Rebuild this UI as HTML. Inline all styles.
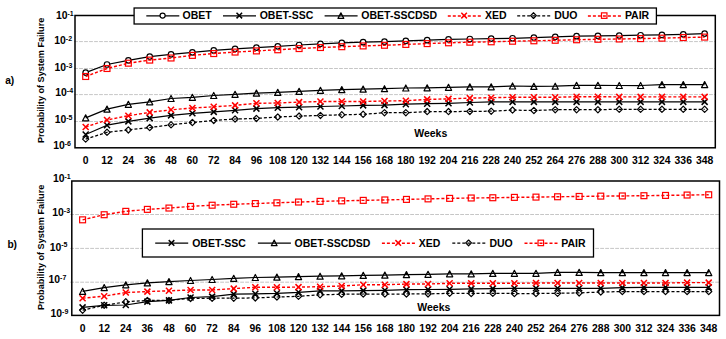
<!DOCTYPE html>
<html><head><meta charset="utf-8"><style>
html,body{margin:0;padding:0;background:#fff;}
svg{display:block;}
text{font-family:"Liberation Sans",sans-serif;font-weight:bold;fill:#000;}
.lg{font-size:10.5px;}
.tk{font-size:10.4px;}
.yl{font-size:10.4px;}
.sup{font-size:7px;}
.ttl{font-size:9.1px;}
.wk{font-size:10.5px;}
.pl{font-size:10.2px;}
</style></head><body>
<svg width="726" height="339" viewBox="0 0 726 339">
<rect width="726" height="339" fill="#fff"/>
<g>
<line x1="74.1" y1="41.60" x2="715.3" y2="41.60" stroke="#c6c6c6" stroke-width="1" stroke-dasharray="3.8 1.2"/>
<line x1="74.1" y1="68.50" x2="715.3" y2="68.50" stroke="#c6c6c6" stroke-width="1" stroke-dasharray="3.8 1.2"/>
<line x1="74.1" y1="94.60" x2="715.3" y2="94.60" stroke="#c6c6c6" stroke-width="1" stroke-dasharray="3.8 1.2"/>
<line x1="74.1" y1="121.50" x2="715.3" y2="121.50" stroke="#c6c6c6" stroke-width="1" stroke-dasharray="3.8 1.2"/>
<rect x="75.0" y="15.5" width="640.30" height="132.30" fill="none" stroke="#000" stroke-width="1.5"/>
<polyline points="85.67,72.60 107.01,64.50 128.36,60.30 149.70,56.60 171.04,54.30 192.39,52.30 213.73,50.43 235.07,48.83 256.42,47.57 277.76,46.30 299.10,45.00 320.45,43.80 341.79,42.90 363.13,42.20 384.48,41.67 405.82,40.87 427.16,40.17 448.51,39.37 469.85,39.00 491.19,38.60 512.54,38.27 533.88,37.57 555.22,36.87 576.57,36.17 597.91,35.83 619.25,35.57 640.60,35.23 661.94,34.90 683.28,34.33 704.63,33.60" fill="none" stroke="#000" stroke-width="1.25" stroke-linejoin="round"/>
<circle cx="85.67" cy="72.60" r="2.75" fill="#fff" stroke="#000" stroke-width="1.2"/>
<circle cx="107.01" cy="64.50" r="2.75" fill="#fff" stroke="#000" stroke-width="1.2"/>
<circle cx="128.36" cy="60.30" r="2.75" fill="#fff" stroke="#000" stroke-width="1.2"/>
<circle cx="149.70" cy="56.60" r="2.75" fill="#fff" stroke="#000" stroke-width="1.2"/>
<circle cx="171.04" cy="54.30" r="2.75" fill="#fff" stroke="#000" stroke-width="1.2"/>
<circle cx="192.39" cy="52.30" r="2.75" fill="#fff" stroke="#000" stroke-width="1.2"/>
<circle cx="213.73" cy="50.43" r="2.75" fill="#fff" stroke="#000" stroke-width="1.2"/>
<circle cx="235.07" cy="48.83" r="2.75" fill="#fff" stroke="#000" stroke-width="1.2"/>
<circle cx="256.42" cy="47.57" r="2.75" fill="#fff" stroke="#000" stroke-width="1.2"/>
<circle cx="277.76" cy="46.30" r="2.75" fill="#fff" stroke="#000" stroke-width="1.2"/>
<circle cx="299.10" cy="45.00" r="2.75" fill="#fff" stroke="#000" stroke-width="1.2"/>
<circle cx="320.45" cy="43.80" r="2.75" fill="#fff" stroke="#000" stroke-width="1.2"/>
<circle cx="341.79" cy="42.90" r="2.75" fill="#fff" stroke="#000" stroke-width="1.2"/>
<circle cx="363.13" cy="42.20" r="2.75" fill="#fff" stroke="#000" stroke-width="1.2"/>
<circle cx="384.48" cy="41.67" r="2.75" fill="#fff" stroke="#000" stroke-width="1.2"/>
<circle cx="405.82" cy="40.87" r="2.75" fill="#fff" stroke="#000" stroke-width="1.2"/>
<circle cx="427.16" cy="40.17" r="2.75" fill="#fff" stroke="#000" stroke-width="1.2"/>
<circle cx="448.51" cy="39.37" r="2.75" fill="#fff" stroke="#000" stroke-width="1.2"/>
<circle cx="469.85" cy="39.00" r="2.75" fill="#fff" stroke="#000" stroke-width="1.2"/>
<circle cx="491.19" cy="38.60" r="2.75" fill="#fff" stroke="#000" stroke-width="1.2"/>
<circle cx="512.54" cy="38.27" r="2.75" fill="#fff" stroke="#000" stroke-width="1.2"/>
<circle cx="533.88" cy="37.57" r="2.75" fill="#fff" stroke="#000" stroke-width="1.2"/>
<circle cx="555.22" cy="36.87" r="2.75" fill="#fff" stroke="#000" stroke-width="1.2"/>
<circle cx="576.57" cy="36.17" r="2.75" fill="#fff" stroke="#000" stroke-width="1.2"/>
<circle cx="597.91" cy="35.83" r="2.75" fill="#fff" stroke="#000" stroke-width="1.2"/>
<circle cx="619.25" cy="35.57" r="2.75" fill="#fff" stroke="#000" stroke-width="1.2"/>
<circle cx="640.60" cy="35.23" r="2.75" fill="#fff" stroke="#000" stroke-width="1.2"/>
<circle cx="661.94" cy="34.90" r="2.75" fill="#fff" stroke="#000" stroke-width="1.2"/>
<circle cx="683.28" cy="34.33" r="2.75" fill="#fff" stroke="#000" stroke-width="1.2"/>
<circle cx="704.63" cy="33.60" r="2.75" fill="#fff" stroke="#000" stroke-width="1.2"/>
<polyline points="85.67,134.50 107.01,125.20 128.36,121.40 149.70,118.10 171.04,115.40 192.39,113.30 213.73,111.90 235.07,110.30 256.42,108.60 277.76,107.70 299.10,107.20 320.45,106.50 341.79,106.00 363.13,105.40 384.48,105.10 405.82,104.20 427.16,103.70 448.51,103.30 469.85,102.50 491.19,101.90 512.54,101.90 533.88,101.90 555.22,101.90 576.57,101.90 597.91,101.90 619.25,101.90 640.60,101.90 661.94,101.90 683.28,101.90 704.63,101.90" fill="none" stroke="#000" stroke-width="1.25" stroke-linejoin="round"/>
<path d="M82.67 131.50 L88.67 137.50 M88.67 131.50 L82.67 137.50" stroke="#000" stroke-width="1.5" fill="none"/>
<path d="M104.01 122.20 L110.01 128.20 M110.01 122.20 L104.01 128.20" stroke="#000" stroke-width="1.5" fill="none"/>
<path d="M125.36 118.40 L131.36 124.40 M131.36 118.40 L125.36 124.40" stroke="#000" stroke-width="1.5" fill="none"/>
<path d="M146.70 115.10 L152.70 121.10 M152.70 115.10 L146.70 121.10" stroke="#000" stroke-width="1.5" fill="none"/>
<path d="M168.04 112.40 L174.04 118.40 M174.04 112.40 L168.04 118.40" stroke="#000" stroke-width="1.5" fill="none"/>
<path d="M189.39 110.30 L195.39 116.30 M195.39 110.30 L189.39 116.30" stroke="#000" stroke-width="1.5" fill="none"/>
<path d="M210.73 108.90 L216.73 114.90 M216.73 108.90 L210.73 114.90" stroke="#000" stroke-width="1.5" fill="none"/>
<path d="M232.07 107.30 L238.07 113.30 M238.07 107.30 L232.07 113.30" stroke="#000" stroke-width="1.5" fill="none"/>
<path d="M253.42 105.60 L259.42 111.60 M259.42 105.60 L253.42 111.60" stroke="#000" stroke-width="1.5" fill="none"/>
<path d="M274.76 104.70 L280.76 110.70 M280.76 104.70 L274.76 110.70" stroke="#000" stroke-width="1.5" fill="none"/>
<path d="M296.10 104.20 L302.10 110.20 M302.10 104.20 L296.10 110.20" stroke="#000" stroke-width="1.5" fill="none"/>
<path d="M317.45 103.50 L323.45 109.50 M323.45 103.50 L317.45 109.50" stroke="#000" stroke-width="1.5" fill="none"/>
<path d="M338.79 103.00 L344.79 109.00 M344.79 103.00 L338.79 109.00" stroke="#000" stroke-width="1.5" fill="none"/>
<path d="M360.13 102.40 L366.13 108.40 M366.13 102.40 L360.13 108.40" stroke="#000" stroke-width="1.5" fill="none"/>
<path d="M381.48 102.10 L387.48 108.10 M387.48 102.10 L381.48 108.10" stroke="#000" stroke-width="1.5" fill="none"/>
<path d="M402.82 101.20 L408.82 107.20 M408.82 101.20 L402.82 107.20" stroke="#000" stroke-width="1.5" fill="none"/>
<path d="M424.16 100.70 L430.16 106.70 M430.16 100.70 L424.16 106.70" stroke="#000" stroke-width="1.5" fill="none"/>
<path d="M445.51 100.30 L451.51 106.30 M451.51 100.30 L445.51 106.30" stroke="#000" stroke-width="1.5" fill="none"/>
<path d="M466.85 99.50 L472.85 105.50 M472.85 99.50 L466.85 105.50" stroke="#000" stroke-width="1.5" fill="none"/>
<path d="M488.19 98.90 L494.19 104.90 M494.19 98.90 L488.19 104.90" stroke="#000" stroke-width="1.5" fill="none"/>
<path d="M509.54 98.90 L515.54 104.90 M515.54 98.90 L509.54 104.90" stroke="#000" stroke-width="1.5" fill="none"/>
<path d="M530.88 98.90 L536.88 104.90 M536.88 98.90 L530.88 104.90" stroke="#000" stroke-width="1.5" fill="none"/>
<path d="M552.22 98.90 L558.22 104.90 M558.22 98.90 L552.22 104.90" stroke="#000" stroke-width="1.5" fill="none"/>
<path d="M573.57 98.90 L579.57 104.90 M579.57 98.90 L573.57 104.90" stroke="#000" stroke-width="1.5" fill="none"/>
<path d="M594.91 98.90 L600.91 104.90 M600.91 98.90 L594.91 104.90" stroke="#000" stroke-width="1.5" fill="none"/>
<path d="M616.25 98.90 L622.25 104.90 M622.25 98.90 L616.25 104.90" stroke="#000" stroke-width="1.5" fill="none"/>
<path d="M637.60 98.90 L643.60 104.90 M643.60 98.90 L637.60 104.90" stroke="#000" stroke-width="1.5" fill="none"/>
<path d="M658.94 98.90 L664.94 104.90 M664.94 98.90 L658.94 104.90" stroke="#000" stroke-width="1.5" fill="none"/>
<path d="M680.28 98.90 L686.28 104.90 M686.28 98.90 L680.28 104.90" stroke="#000" stroke-width="1.5" fill="none"/>
<path d="M701.63 98.90 L707.63 104.90 M707.63 98.90 L701.63 104.90" stroke="#000" stroke-width="1.5" fill="none"/>
<polyline points="85.67,117.80 107.01,109.10 128.36,104.30 149.70,101.80 171.04,98.50 192.39,97.30 213.73,95.50 235.07,94.30 256.42,93.10 277.76,92.40 299.10,91.40 320.45,90.30 341.79,89.60 363.13,89.10 384.48,88.70 405.82,88.00 427.16,87.80 448.51,87.30 469.85,86.90 491.19,86.80 512.54,86.00 533.88,86.40 555.22,86.20 576.57,85.30 597.91,85.30 619.25,85.50 640.60,85.50 661.94,84.60 683.28,84.60 704.63,84.60" fill="none" stroke="#000" stroke-width="1.25" stroke-linejoin="round"/>
<path d="M85.67 114.80 L88.77 120.80 L82.57 120.80 Z" fill="none" stroke="#000" stroke-width="1.2" stroke-linejoin="round"/>
<path d="M107.01 106.10 L110.11 112.10 L103.91 112.10 Z" fill="none" stroke="#000" stroke-width="1.2" stroke-linejoin="round"/>
<path d="M128.36 101.30 L131.46 107.30 L125.26 107.30 Z" fill="none" stroke="#000" stroke-width="1.2" stroke-linejoin="round"/>
<path d="M149.70 98.80 L152.80 104.80 L146.60 104.80 Z" fill="none" stroke="#000" stroke-width="1.2" stroke-linejoin="round"/>
<path d="M171.04 95.50 L174.14 101.50 L167.94 101.50 Z" fill="none" stroke="#000" stroke-width="1.2" stroke-linejoin="round"/>
<path d="M192.39 94.30 L195.49 100.30 L189.29 100.30 Z" fill="none" stroke="#000" stroke-width="1.2" stroke-linejoin="round"/>
<path d="M213.73 92.50 L216.83 98.50 L210.63 98.50 Z" fill="none" stroke="#000" stroke-width="1.2" stroke-linejoin="round"/>
<path d="M235.07 91.30 L238.17 97.30 L231.97 97.30 Z" fill="none" stroke="#000" stroke-width="1.2" stroke-linejoin="round"/>
<path d="M256.42 90.10 L259.52 96.10 L253.32 96.10 Z" fill="none" stroke="#000" stroke-width="1.2" stroke-linejoin="round"/>
<path d="M277.76 89.40 L280.86 95.40 L274.66 95.40 Z" fill="none" stroke="#000" stroke-width="1.2" stroke-linejoin="round"/>
<path d="M299.10 88.40 L302.20 94.40 L296.00 94.40 Z" fill="none" stroke="#000" stroke-width="1.2" stroke-linejoin="round"/>
<path d="M320.45 87.30 L323.55 93.30 L317.35 93.30 Z" fill="none" stroke="#000" stroke-width="1.2" stroke-linejoin="round"/>
<path d="M341.79 86.60 L344.89 92.60 L338.69 92.60 Z" fill="none" stroke="#000" stroke-width="1.2" stroke-linejoin="round"/>
<path d="M363.13 86.10 L366.23 92.10 L360.03 92.10 Z" fill="none" stroke="#000" stroke-width="1.2" stroke-linejoin="round"/>
<path d="M384.48 85.70 L387.58 91.70 L381.38 91.70 Z" fill="none" stroke="#000" stroke-width="1.2" stroke-linejoin="round"/>
<path d="M405.82 85.00 L408.92 91.00 L402.72 91.00 Z" fill="none" stroke="#000" stroke-width="1.2" stroke-linejoin="round"/>
<path d="M427.16 84.80 L430.26 90.80 L424.06 90.80 Z" fill="none" stroke="#000" stroke-width="1.2" stroke-linejoin="round"/>
<path d="M448.51 84.30 L451.61 90.30 L445.41 90.30 Z" fill="none" stroke="#000" stroke-width="1.2" stroke-linejoin="round"/>
<path d="M469.85 83.90 L472.95 89.90 L466.75 89.90 Z" fill="none" stroke="#000" stroke-width="1.2" stroke-linejoin="round"/>
<path d="M491.19 83.80 L494.29 89.80 L488.09 89.80 Z" fill="none" stroke="#000" stroke-width="1.2" stroke-linejoin="round"/>
<path d="M512.54 83.00 L515.64 89.00 L509.44 89.00 Z" fill="none" stroke="#000" stroke-width="1.2" stroke-linejoin="round"/>
<path d="M533.88 83.40 L536.98 89.40 L530.78 89.40 Z" fill="none" stroke="#000" stroke-width="1.2" stroke-linejoin="round"/>
<path d="M555.22 83.20 L558.32 89.20 L552.12 89.20 Z" fill="none" stroke="#000" stroke-width="1.2" stroke-linejoin="round"/>
<path d="M576.57 82.30 L579.67 88.30 L573.47 88.30 Z" fill="none" stroke="#000" stroke-width="1.2" stroke-linejoin="round"/>
<path d="M597.91 82.30 L601.01 88.30 L594.81 88.30 Z" fill="none" stroke="#000" stroke-width="1.2" stroke-linejoin="round"/>
<path d="M619.25 82.50 L622.35 88.50 L616.15 88.50 Z" fill="none" stroke="#000" stroke-width="1.2" stroke-linejoin="round"/>
<path d="M640.60 82.50 L643.70 88.50 L637.50 88.50 Z" fill="none" stroke="#000" stroke-width="1.2" stroke-linejoin="round"/>
<path d="M661.94 81.60 L665.04 87.60 L658.84 87.60 Z" fill="none" stroke="#000" stroke-width="1.2" stroke-linejoin="round"/>
<path d="M683.28 81.60 L686.38 87.60 L680.18 87.60 Z" fill="none" stroke="#000" stroke-width="1.2" stroke-linejoin="round"/>
<path d="M704.63 81.60 L707.73 87.60 L701.53 87.60 Z" fill="none" stroke="#000" stroke-width="1.2" stroke-linejoin="round"/>
<polyline points="85.67,127.00 107.01,120.00 128.36,115.70 149.70,112.40 171.04,109.80 192.39,108.00 213.73,106.80 235.07,105.40 256.42,103.30 277.76,103.00 299.10,102.10 320.45,101.50 341.79,101.50 363.13,101.50 384.48,101.00 405.82,100.70 427.16,99.40 448.51,98.90 469.85,98.10 491.19,97.70 512.54,97.30 533.88,97.30 555.22,97.30 576.57,96.70 597.91,96.70 619.25,96.90 640.60,96.90 661.94,96.90 683.28,96.90 704.63,96.90" fill="none" stroke="#f00" stroke-width="1.4" stroke-dasharray="3 2" stroke-linejoin="round"/>
<path d="M82.67 124.00 L88.67 130.00 M88.67 124.00 L82.67 130.00" stroke="#f00" stroke-width="1.5" fill="none"/>
<path d="M104.01 117.00 L110.01 123.00 M110.01 117.00 L104.01 123.00" stroke="#f00" stroke-width="1.5" fill="none"/>
<path d="M125.36 112.70 L131.36 118.70 M131.36 112.70 L125.36 118.70" stroke="#f00" stroke-width="1.5" fill="none"/>
<path d="M146.70 109.40 L152.70 115.40 M152.70 109.40 L146.70 115.40" stroke="#f00" stroke-width="1.5" fill="none"/>
<path d="M168.04 106.80 L174.04 112.80 M174.04 106.80 L168.04 112.80" stroke="#f00" stroke-width="1.5" fill="none"/>
<path d="M189.39 105.00 L195.39 111.00 M195.39 105.00 L189.39 111.00" stroke="#f00" stroke-width="1.5" fill="none"/>
<path d="M210.73 103.80 L216.73 109.80 M216.73 103.80 L210.73 109.80" stroke="#f00" stroke-width="1.5" fill="none"/>
<path d="M232.07 102.40 L238.07 108.40 M238.07 102.40 L232.07 108.40" stroke="#f00" stroke-width="1.5" fill="none"/>
<path d="M253.42 100.30 L259.42 106.30 M259.42 100.30 L253.42 106.30" stroke="#f00" stroke-width="1.5" fill="none"/>
<path d="M274.76 100.00 L280.76 106.00 M280.76 100.00 L274.76 106.00" stroke="#f00" stroke-width="1.5" fill="none"/>
<path d="M296.10 99.10 L302.10 105.10 M302.10 99.10 L296.10 105.10" stroke="#f00" stroke-width="1.5" fill="none"/>
<path d="M317.45 98.50 L323.45 104.50 M323.45 98.50 L317.45 104.50" stroke="#f00" stroke-width="1.5" fill="none"/>
<path d="M338.79 98.50 L344.79 104.50 M344.79 98.50 L338.79 104.50" stroke="#f00" stroke-width="1.5" fill="none"/>
<path d="M360.13 98.50 L366.13 104.50 M366.13 98.50 L360.13 104.50" stroke="#f00" stroke-width="1.5" fill="none"/>
<path d="M381.48 98.00 L387.48 104.00 M387.48 98.00 L381.48 104.00" stroke="#f00" stroke-width="1.5" fill="none"/>
<path d="M402.82 97.70 L408.82 103.70 M408.82 97.70 L402.82 103.70" stroke="#f00" stroke-width="1.5" fill="none"/>
<path d="M424.16 96.40 L430.16 102.40 M430.16 96.40 L424.16 102.40" stroke="#f00" stroke-width="1.5" fill="none"/>
<path d="M445.51 95.90 L451.51 101.90 M451.51 95.90 L445.51 101.90" stroke="#f00" stroke-width="1.5" fill="none"/>
<path d="M466.85 95.10 L472.85 101.10 M472.85 95.10 L466.85 101.10" stroke="#f00" stroke-width="1.5" fill="none"/>
<path d="M488.19 94.70 L494.19 100.70 M494.19 94.70 L488.19 100.70" stroke="#f00" stroke-width="1.5" fill="none"/>
<path d="M509.54 94.30 L515.54 100.30 M515.54 94.30 L509.54 100.30" stroke="#f00" stroke-width="1.5" fill="none"/>
<path d="M530.88 94.30 L536.88 100.30 M536.88 94.30 L530.88 100.30" stroke="#f00" stroke-width="1.5" fill="none"/>
<path d="M552.22 94.30 L558.22 100.30 M558.22 94.30 L552.22 100.30" stroke="#f00" stroke-width="1.5" fill="none"/>
<path d="M573.57 93.70 L579.57 99.70 M579.57 93.70 L573.57 99.70" stroke="#f00" stroke-width="1.5" fill="none"/>
<path d="M594.91 93.70 L600.91 99.70 M600.91 93.70 L594.91 99.70" stroke="#f00" stroke-width="1.5" fill="none"/>
<path d="M616.25 93.90 L622.25 99.90 M622.25 93.90 L616.25 99.90" stroke="#f00" stroke-width="1.5" fill="none"/>
<path d="M637.60 93.90 L643.60 99.90 M643.60 93.90 L637.60 99.90" stroke="#f00" stroke-width="1.5" fill="none"/>
<path d="M658.94 93.90 L664.94 99.90 M664.94 93.90 L658.94 99.90" stroke="#f00" stroke-width="1.5" fill="none"/>
<path d="M680.28 93.90 L686.28 99.90 M686.28 93.90 L680.28 99.90" stroke="#f00" stroke-width="1.5" fill="none"/>
<path d="M701.63 93.90 L707.63 99.90 M707.63 93.90 L701.63 99.90" stroke="#f00" stroke-width="1.5" fill="none"/>
<polyline points="85.67,139.10 107.01,132.30 128.36,129.90 149.70,127.50 171.04,124.80 192.39,122.50 213.73,120.40 235.07,119.00 256.42,118.40 277.76,117.00 299.10,116.10 320.45,115.40 341.79,114.80 363.13,114.30 384.48,112.70 405.82,112.70 427.16,111.60 448.51,111.60 469.85,111.40 491.19,111.20 512.54,110.10 533.88,110.50 555.22,109.70 576.57,109.70 597.91,109.70 619.25,109.30 640.60,109.30 661.94,109.30 683.28,109.30 704.63,109.30" fill="none" stroke="#000" stroke-width="1.25" stroke-dasharray="3 2" stroke-linejoin="round"/>
<path d="M85.67 136.00 L88.77 139.10 L85.67 142.20 L82.57 139.10 Z" fill="none" stroke="#000" stroke-width="1.2" stroke-linejoin="round"/>
<path d="M107.01 129.20 L110.11 132.30 L107.01 135.40 L103.91 132.30 Z" fill="none" stroke="#000" stroke-width="1.2" stroke-linejoin="round"/>
<path d="M128.36 126.80 L131.46 129.90 L128.36 133.00 L125.26 129.90 Z" fill="none" stroke="#000" stroke-width="1.2" stroke-linejoin="round"/>
<path d="M149.70 124.40 L152.80 127.50 L149.70 130.60 L146.60 127.50 Z" fill="none" stroke="#000" stroke-width="1.2" stroke-linejoin="round"/>
<path d="M171.04 121.70 L174.14 124.80 L171.04 127.90 L167.94 124.80 Z" fill="none" stroke="#000" stroke-width="1.2" stroke-linejoin="round"/>
<path d="M192.39 119.40 L195.49 122.50 L192.39 125.60 L189.29 122.50 Z" fill="none" stroke="#000" stroke-width="1.2" stroke-linejoin="round"/>
<path d="M213.73 117.30 L216.83 120.40 L213.73 123.50 L210.63 120.40 Z" fill="none" stroke="#000" stroke-width="1.2" stroke-linejoin="round"/>
<path d="M235.07 115.90 L238.17 119.00 L235.07 122.10 L231.97 119.00 Z" fill="none" stroke="#000" stroke-width="1.2" stroke-linejoin="round"/>
<path d="M256.42 115.30 L259.52 118.40 L256.42 121.50 L253.32 118.40 Z" fill="none" stroke="#000" stroke-width="1.2" stroke-linejoin="round"/>
<path d="M277.76 113.90 L280.86 117.00 L277.76 120.10 L274.66 117.00 Z" fill="none" stroke="#000" stroke-width="1.2" stroke-linejoin="round"/>
<path d="M299.10 113.00 L302.20 116.10 L299.10 119.20 L296.00 116.10 Z" fill="none" stroke="#000" stroke-width="1.2" stroke-linejoin="round"/>
<path d="M320.45 112.30 L323.55 115.40 L320.45 118.50 L317.35 115.40 Z" fill="none" stroke="#000" stroke-width="1.2" stroke-linejoin="round"/>
<path d="M341.79 111.70 L344.89 114.80 L341.79 117.90 L338.69 114.80 Z" fill="none" stroke="#000" stroke-width="1.2" stroke-linejoin="round"/>
<path d="M363.13 111.20 L366.23 114.30 L363.13 117.40 L360.03 114.30 Z" fill="none" stroke="#000" stroke-width="1.2" stroke-linejoin="round"/>
<path d="M384.48 109.60 L387.58 112.70 L384.48 115.80 L381.38 112.70 Z" fill="none" stroke="#000" stroke-width="1.2" stroke-linejoin="round"/>
<path d="M405.82 109.60 L408.92 112.70 L405.82 115.80 L402.72 112.70 Z" fill="none" stroke="#000" stroke-width="1.2" stroke-linejoin="round"/>
<path d="M427.16 108.50 L430.26 111.60 L427.16 114.70 L424.06 111.60 Z" fill="none" stroke="#000" stroke-width="1.2" stroke-linejoin="round"/>
<path d="M448.51 108.50 L451.61 111.60 L448.51 114.70 L445.41 111.60 Z" fill="none" stroke="#000" stroke-width="1.2" stroke-linejoin="round"/>
<path d="M469.85 108.30 L472.95 111.40 L469.85 114.50 L466.75 111.40 Z" fill="none" stroke="#000" stroke-width="1.2" stroke-linejoin="round"/>
<path d="M491.19 108.10 L494.29 111.20 L491.19 114.30 L488.09 111.20 Z" fill="none" stroke="#000" stroke-width="1.2" stroke-linejoin="round"/>
<path d="M512.54 107.00 L515.64 110.10 L512.54 113.20 L509.44 110.10 Z" fill="none" stroke="#000" stroke-width="1.2" stroke-linejoin="round"/>
<path d="M533.88 107.40 L536.98 110.50 L533.88 113.60 L530.78 110.50 Z" fill="none" stroke="#000" stroke-width="1.2" stroke-linejoin="round"/>
<path d="M555.22 106.60 L558.32 109.70 L555.22 112.80 L552.12 109.70 Z" fill="none" stroke="#000" stroke-width="1.2" stroke-linejoin="round"/>
<path d="M576.57 106.60 L579.67 109.70 L576.57 112.80 L573.47 109.70 Z" fill="none" stroke="#000" stroke-width="1.2" stroke-linejoin="round"/>
<path d="M597.91 106.60 L601.01 109.70 L597.91 112.80 L594.81 109.70 Z" fill="none" stroke="#000" stroke-width="1.2" stroke-linejoin="round"/>
<path d="M619.25 106.20 L622.35 109.30 L619.25 112.40 L616.15 109.30 Z" fill="none" stroke="#000" stroke-width="1.2" stroke-linejoin="round"/>
<path d="M640.60 106.20 L643.70 109.30 L640.60 112.40 L637.50 109.30 Z" fill="none" stroke="#000" stroke-width="1.2" stroke-linejoin="round"/>
<path d="M661.94 106.20 L665.04 109.30 L661.94 112.40 L658.84 109.30 Z" fill="none" stroke="#000" stroke-width="1.2" stroke-linejoin="round"/>
<path d="M683.28 106.20 L686.38 109.30 L683.28 112.40 L680.18 109.30 Z" fill="none" stroke="#000" stroke-width="1.2" stroke-linejoin="round"/>
<path d="M704.63 106.20 L707.73 109.30 L704.63 112.40 L701.53 109.30 Z" fill="none" stroke="#000" stroke-width="1.2" stroke-linejoin="round"/>
<polyline points="85.67,76.50 107.01,68.50 128.36,63.20 149.70,60.10 171.04,58.00 192.39,55.40 213.73,53.57 235.07,52.07 256.42,50.93 277.76,49.77 299.10,48.57 320.45,47.53 341.79,46.70 363.13,45.93 384.48,45.27 405.82,44.43 427.16,43.60 448.51,42.80 469.85,42.20 491.19,41.80 512.54,41.23 533.88,40.80 555.22,40.27 576.57,39.77 597.91,39.27 619.25,39.00 640.60,38.60 661.94,38.17 683.28,37.57 704.63,37.10" fill="none" stroke="#f00" stroke-width="1.4" stroke-dasharray="3 2" stroke-linejoin="round"/>
<rect x="82.72" y="73.55" width="5.90" height="5.90" fill="none" stroke="#f00" stroke-width="1.2"/>
<rect x="104.06" y="65.55" width="5.90" height="5.90" fill="none" stroke="#f00" stroke-width="1.2"/>
<rect x="125.41" y="60.25" width="5.90" height="5.90" fill="none" stroke="#f00" stroke-width="1.2"/>
<rect x="146.75" y="57.15" width="5.90" height="5.90" fill="none" stroke="#f00" stroke-width="1.2"/>
<rect x="168.09" y="55.05" width="5.90" height="5.90" fill="none" stroke="#f00" stroke-width="1.2"/>
<rect x="189.44" y="52.45" width="5.90" height="5.90" fill="none" stroke="#f00" stroke-width="1.2"/>
<rect x="210.78" y="50.62" width="5.90" height="5.90" fill="none" stroke="#f00" stroke-width="1.2"/>
<rect x="232.12" y="49.12" width="5.90" height="5.90" fill="none" stroke="#f00" stroke-width="1.2"/>
<rect x="253.47" y="47.98" width="5.90" height="5.90" fill="none" stroke="#f00" stroke-width="1.2"/>
<rect x="274.81" y="46.82" width="5.90" height="5.90" fill="none" stroke="#f00" stroke-width="1.2"/>
<rect x="296.15" y="45.62" width="5.90" height="5.90" fill="none" stroke="#f00" stroke-width="1.2"/>
<rect x="317.50" y="44.58" width="5.90" height="5.90" fill="none" stroke="#f00" stroke-width="1.2"/>
<rect x="338.84" y="43.75" width="5.90" height="5.90" fill="none" stroke="#f00" stroke-width="1.2"/>
<rect x="360.18" y="42.98" width="5.90" height="5.90" fill="none" stroke="#f00" stroke-width="1.2"/>
<rect x="381.53" y="42.32" width="5.90" height="5.90" fill="none" stroke="#f00" stroke-width="1.2"/>
<rect x="402.87" y="41.48" width="5.90" height="5.90" fill="none" stroke="#f00" stroke-width="1.2"/>
<rect x="424.21" y="40.65" width="5.90" height="5.90" fill="none" stroke="#f00" stroke-width="1.2"/>
<rect x="445.56" y="39.85" width="5.90" height="5.90" fill="none" stroke="#f00" stroke-width="1.2"/>
<rect x="466.90" y="39.25" width="5.90" height="5.90" fill="none" stroke="#f00" stroke-width="1.2"/>
<rect x="488.24" y="38.85" width="5.90" height="5.90" fill="none" stroke="#f00" stroke-width="1.2"/>
<rect x="509.59" y="38.28" width="5.90" height="5.90" fill="none" stroke="#f00" stroke-width="1.2"/>
<rect x="530.93" y="37.85" width="5.90" height="5.90" fill="none" stroke="#f00" stroke-width="1.2"/>
<rect x="552.27" y="37.32" width="5.90" height="5.90" fill="none" stroke="#f00" stroke-width="1.2"/>
<rect x="573.62" y="36.82" width="5.90" height="5.90" fill="none" stroke="#f00" stroke-width="1.2"/>
<rect x="594.96" y="36.32" width="5.90" height="5.90" fill="none" stroke="#f00" stroke-width="1.2"/>
<rect x="616.30" y="36.05" width="5.90" height="5.90" fill="none" stroke="#f00" stroke-width="1.2"/>
<rect x="637.65" y="35.65" width="5.90" height="5.90" fill="none" stroke="#f00" stroke-width="1.2"/>
<rect x="658.99" y="35.22" width="5.90" height="5.90" fill="none" stroke="#f00" stroke-width="1.2"/>
<rect x="680.33" y="34.62" width="5.90" height="5.90" fill="none" stroke="#f00" stroke-width="1.2"/>
<rect x="701.68" y="34.15" width="5.90" height="5.90" fill="none" stroke="#f00" stroke-width="1.2"/>
</g>
<rect x="134.1" y="8" width="522.3" height="16" fill="#fff" stroke="#000" stroke-width="1.3"/>
<line x1="146.30" y1="15.90" x2="179.30" y2="15.90" stroke="#000" stroke-width="1.25"/>
<circle cx="162.60" cy="15.60" r="2.56" fill="#fff" stroke="#000" stroke-width="1.2"/>
<text x="182.60" y="19.40" class="lg">OBET</text>
<line x1="223.00" y1="15.90" x2="256.00" y2="15.90" stroke="#000" stroke-width="1.25"/>
<path d="M236.51 12.81 L242.09 18.39 M242.09 12.81 L236.51 18.39" stroke="#000" stroke-width="1.5" fill="none"/>
<text x="259.70" y="19.40" class="lg">OBET-SSC</text>
<line x1="324.60" y1="15.90" x2="357.60" y2="15.90" stroke="#000" stroke-width="1.25"/>
<path d="M340.90 12.81 L343.78 18.39 L338.02 18.39 Z" fill="none" stroke="#000" stroke-width="1.2" stroke-linejoin="round"/>
<text x="361.30" y="19.40" class="lg">OBET-SSCDSD</text>
<line x1="447.80" y1="15.90" x2="480.80" y2="15.90" stroke="#f00" stroke-width="1.5" stroke-dasharray="3 2"/>
<path d="M461.31 12.81 L466.89 18.39 M466.89 12.81 L461.31 18.39" stroke="#f00" stroke-width="1.5" fill="none"/>
<text x="484.90" y="19.40" class="lg">XED</text>
<line x1="517.20" y1="15.90" x2="550.20" y2="15.90" stroke="#000" stroke-width="1.25" stroke-dasharray="3 2"/>
<path d="M533.50 12.72 L536.38 15.60 L533.50 18.48 L530.62 15.60 Z" fill="none" stroke="#000" stroke-width="1.2" stroke-linejoin="round"/>
<text x="554.20" y="19.40" class="lg">DUO</text>
<line x1="587.90" y1="15.90" x2="620.90" y2="15.90" stroke="#f00" stroke-width="1.5" stroke-dasharray="3 2"/>
<rect x="601.46" y="12.86" width="5.49" height="5.49" fill="none" stroke="#f00" stroke-width="1.2"/>
<text x="624.90" y="19.40" class="lg">PAIR</text>
<line x1="70.2" y1="214.50" x2="719.5" y2="214.50" stroke="#c6c6c6" stroke-width="1" stroke-dasharray="3.8 1.2"/>
<line x1="70.2" y1="248.40" x2="719.5" y2="248.40" stroke="#c6c6c6" stroke-width="1" stroke-dasharray="3.8 1.2"/>
<line x1="70.2" y1="282.20" x2="719.5" y2="282.20" stroke="#c6c6c6" stroke-width="1" stroke-dasharray="3.8 1.2"/>
<rect x="71.8" y="181.0" width="647.70" height="134.40" fill="none" stroke="#000" stroke-width="1.5"/>
<polyline points="82.59,307.40 104.19,305.30 125.78,305.00 147.37,301.60 168.95,300.40 190.55,297.50 212.13,296.60 233.73,294.10 255.31,293.80 276.90,293.30 298.50,292.30 320.08,290.80 341.68,290.90 363.26,290.60 384.86,290.30 406.44,289.70 428.04,289.50 449.62,289.30 471.22,288.90 492.81,288.60 514.39,288.30 535.99,288.30 557.57,288.30 579.16,288.30 600.75,288.30 622.34,287.60 643.93,287.30 665.52,287.30 687.11,287.30 708.70,287.30" fill="none" stroke="#000" stroke-width="1.25" stroke-linejoin="round"/>
<path d="M79.59 304.40 L85.59 310.40 M85.59 304.40 L79.59 310.40" stroke="#000" stroke-width="1.5" fill="none"/>
<path d="M101.19 302.30 L107.19 308.30 M107.19 302.30 L101.19 308.30" stroke="#000" stroke-width="1.5" fill="none"/>
<path d="M122.78 302.00 L128.78 308.00 M128.78 302.00 L122.78 308.00" stroke="#000" stroke-width="1.5" fill="none"/>
<path d="M144.37 298.60 L150.37 304.60 M150.37 298.60 L144.37 304.60" stroke="#000" stroke-width="1.5" fill="none"/>
<path d="M165.95 297.40 L171.95 303.40 M171.95 297.40 L165.95 303.40" stroke="#000" stroke-width="1.5" fill="none"/>
<path d="M187.55 294.50 L193.55 300.50 M193.55 294.50 L187.55 300.50" stroke="#000" stroke-width="1.5" fill="none"/>
<path d="M209.13 293.60 L215.13 299.60 M215.13 293.60 L209.13 299.60" stroke="#000" stroke-width="1.5" fill="none"/>
<path d="M230.73 291.10 L236.73 297.10 M236.73 291.10 L230.73 297.10" stroke="#000" stroke-width="1.5" fill="none"/>
<path d="M252.31 290.80 L258.31 296.80 M258.31 290.80 L252.31 296.80" stroke="#000" stroke-width="1.5" fill="none"/>
<path d="M273.90 290.30 L279.90 296.30 M279.90 290.30 L273.90 296.30" stroke="#000" stroke-width="1.5" fill="none"/>
<path d="M295.50 289.30 L301.50 295.30 M301.50 289.30 L295.50 295.30" stroke="#000" stroke-width="1.5" fill="none"/>
<path d="M317.08 287.80 L323.08 293.80 M323.08 287.80 L317.08 293.80" stroke="#000" stroke-width="1.5" fill="none"/>
<path d="M338.68 287.90 L344.68 293.90 M344.68 287.90 L338.68 293.90" stroke="#000" stroke-width="1.5" fill="none"/>
<path d="M360.26 287.60 L366.26 293.60 M366.26 287.60 L360.26 293.60" stroke="#000" stroke-width="1.5" fill="none"/>
<path d="M381.86 287.30 L387.86 293.30 M387.86 287.30 L381.86 293.30" stroke="#000" stroke-width="1.5" fill="none"/>
<path d="M403.44 286.70 L409.44 292.70 M409.44 286.70 L403.44 292.70" stroke="#000" stroke-width="1.5" fill="none"/>
<path d="M425.04 286.50 L431.04 292.50 M431.04 286.50 L425.04 292.50" stroke="#000" stroke-width="1.5" fill="none"/>
<path d="M446.62 286.30 L452.62 292.30 M452.62 286.30 L446.62 292.30" stroke="#000" stroke-width="1.5" fill="none"/>
<path d="M468.22 285.90 L474.22 291.90 M474.22 285.90 L468.22 291.90" stroke="#000" stroke-width="1.5" fill="none"/>
<path d="M489.81 285.60 L495.81 291.60 M495.81 285.60 L489.81 291.60" stroke="#000" stroke-width="1.5" fill="none"/>
<path d="M511.39 285.30 L517.39 291.30 M517.39 285.30 L511.39 291.30" stroke="#000" stroke-width="1.5" fill="none"/>
<path d="M532.99 285.30 L538.99 291.30 M538.99 285.30 L532.99 291.30" stroke="#000" stroke-width="1.5" fill="none"/>
<path d="M554.57 285.30 L560.57 291.30 M560.57 285.30 L554.57 291.30" stroke="#000" stroke-width="1.5" fill="none"/>
<path d="M576.16 285.30 L582.16 291.30 M582.16 285.30 L576.16 291.30" stroke="#000" stroke-width="1.5" fill="none"/>
<path d="M597.75 285.30 L603.75 291.30 M603.75 285.30 L597.75 291.30" stroke="#000" stroke-width="1.5" fill="none"/>
<path d="M619.34 284.60 L625.34 290.60 M625.34 284.60 L619.34 290.60" stroke="#000" stroke-width="1.5" fill="none"/>
<path d="M640.93 284.30 L646.93 290.30 M646.93 284.30 L640.93 290.30" stroke="#000" stroke-width="1.5" fill="none"/>
<path d="M662.52 284.30 L668.52 290.30 M668.52 284.30 L662.52 290.30" stroke="#000" stroke-width="1.5" fill="none"/>
<path d="M684.11 284.30 L690.11 290.30 M690.11 284.30 L684.11 290.30" stroke="#000" stroke-width="1.5" fill="none"/>
<path d="M705.70 284.30 L711.70 290.30 M711.70 284.30 L705.70 290.30" stroke="#000" stroke-width="1.5" fill="none"/>
<polyline points="82.59,291.40 104.19,287.60 125.78,284.80 147.37,282.90 168.95,281.60 190.55,280.50 212.13,279.50 233.73,278.30 255.31,277.50 276.90,277.10 298.50,276.60 320.08,276.20 341.68,275.80 363.26,275.40 384.86,275.10 406.44,274.60 428.04,274.30 449.62,273.80 471.22,273.80 492.81,273.40 514.39,273.30 535.99,273.30 557.57,272.40 579.16,272.40 600.75,272.60 622.34,272.60 643.93,272.60 665.52,272.60 687.11,272.60 708.70,272.60" fill="none" stroke="#000" stroke-width="1.25" stroke-linejoin="round"/>
<path d="M82.59 288.40 L85.69 294.40 L79.50 294.40 Z" fill="none" stroke="#000" stroke-width="1.2" stroke-linejoin="round"/>
<path d="M104.19 284.60 L107.28 290.60 L101.09 290.60 Z" fill="none" stroke="#000" stroke-width="1.2" stroke-linejoin="round"/>
<path d="M125.78 281.80 L128.88 287.80 L122.68 287.80 Z" fill="none" stroke="#000" stroke-width="1.2" stroke-linejoin="round"/>
<path d="M147.37 279.90 L150.47 285.90 L144.27 285.90 Z" fill="none" stroke="#000" stroke-width="1.2" stroke-linejoin="round"/>
<path d="M168.95 278.60 L172.05 284.60 L165.85 284.60 Z" fill="none" stroke="#000" stroke-width="1.2" stroke-linejoin="round"/>
<path d="M190.55 277.50 L193.65 283.50 L187.45 283.50 Z" fill="none" stroke="#000" stroke-width="1.2" stroke-linejoin="round"/>
<path d="M212.13 276.50 L215.23 282.50 L209.03 282.50 Z" fill="none" stroke="#000" stroke-width="1.2" stroke-linejoin="round"/>
<path d="M233.73 275.30 L236.83 281.30 L230.63 281.30 Z" fill="none" stroke="#000" stroke-width="1.2" stroke-linejoin="round"/>
<path d="M255.31 274.50 L258.42 280.50 L252.22 280.50 Z" fill="none" stroke="#000" stroke-width="1.2" stroke-linejoin="round"/>
<path d="M276.90 274.10 L280.00 280.10 L273.80 280.10 Z" fill="none" stroke="#000" stroke-width="1.2" stroke-linejoin="round"/>
<path d="M298.50 273.60 L301.60 279.60 L295.39 279.60 Z" fill="none" stroke="#000" stroke-width="1.2" stroke-linejoin="round"/>
<path d="M320.08 273.20 L323.19 279.20 L316.98 279.20 Z" fill="none" stroke="#000" stroke-width="1.2" stroke-linejoin="round"/>
<path d="M341.68 272.80 L344.78 278.80 L338.57 278.80 Z" fill="none" stroke="#000" stroke-width="1.2" stroke-linejoin="round"/>
<path d="M363.26 272.40 L366.37 278.40 L360.16 278.40 Z" fill="none" stroke="#000" stroke-width="1.2" stroke-linejoin="round"/>
<path d="M384.86 272.10 L387.96 278.10 L381.75 278.10 Z" fill="none" stroke="#000" stroke-width="1.2" stroke-linejoin="round"/>
<path d="M406.44 271.60 L409.55 277.60 L403.34 277.60 Z" fill="none" stroke="#000" stroke-width="1.2" stroke-linejoin="round"/>
<path d="M428.04 271.30 L431.14 277.30 L424.94 277.30 Z" fill="none" stroke="#000" stroke-width="1.2" stroke-linejoin="round"/>
<path d="M449.62 270.80 L452.73 276.80 L446.52 276.80 Z" fill="none" stroke="#000" stroke-width="1.2" stroke-linejoin="round"/>
<path d="M471.22 270.80 L474.32 276.80 L468.12 276.80 Z" fill="none" stroke="#000" stroke-width="1.2" stroke-linejoin="round"/>
<path d="M492.81 270.40 L495.91 276.40 L489.70 276.40 Z" fill="none" stroke="#000" stroke-width="1.2" stroke-linejoin="round"/>
<path d="M514.39 270.30 L517.50 276.30 L511.29 276.30 Z" fill="none" stroke="#000" stroke-width="1.2" stroke-linejoin="round"/>
<path d="M535.99 270.30 L539.09 276.30 L532.88 276.30 Z" fill="none" stroke="#000" stroke-width="1.2" stroke-linejoin="round"/>
<path d="M557.57 269.40 L560.67 275.40 L554.47 275.40 Z" fill="none" stroke="#000" stroke-width="1.2" stroke-linejoin="round"/>
<path d="M579.16 269.40 L582.26 275.40 L576.06 275.40 Z" fill="none" stroke="#000" stroke-width="1.2" stroke-linejoin="round"/>
<path d="M600.75 269.60 L603.86 275.60 L597.65 275.60 Z" fill="none" stroke="#000" stroke-width="1.2" stroke-linejoin="round"/>
<path d="M622.34 269.60 L625.44 275.60 L619.24 275.60 Z" fill="none" stroke="#000" stroke-width="1.2" stroke-linejoin="round"/>
<path d="M643.93 269.60 L647.03 275.60 L640.83 275.60 Z" fill="none" stroke="#000" stroke-width="1.2" stroke-linejoin="round"/>
<path d="M665.52 269.60 L668.62 275.60 L662.42 275.60 Z" fill="none" stroke="#000" stroke-width="1.2" stroke-linejoin="round"/>
<path d="M687.11 269.60 L690.21 275.60 L684.01 275.60 Z" fill="none" stroke="#000" stroke-width="1.2" stroke-linejoin="round"/>
<path d="M708.70 269.60 L711.80 275.60 L705.60 275.60 Z" fill="none" stroke="#000" stroke-width="1.2" stroke-linejoin="round"/>
<polyline points="82.59,298.20 104.19,296.20 125.78,292.50 147.37,291.60 168.95,290.80 190.55,290.00 212.13,290.00 233.73,288.60 255.31,287.30 276.90,287.30 298.50,287.10 320.08,286.70 341.68,286.00 363.26,284.70 384.86,284.70 406.44,284.10 428.04,284.00 449.62,283.30 471.22,283.30 492.81,283.30 514.39,283.30 535.99,283.00 557.57,283.00 579.16,283.00 600.75,283.00 622.34,283.00 643.93,283.00 665.52,283.00 687.11,282.60 708.70,282.60" fill="none" stroke="#f00" stroke-width="1.4" stroke-dasharray="3 2" stroke-linejoin="round"/>
<path d="M79.59 295.20 L85.59 301.20 M85.59 295.20 L79.59 301.20" stroke="#f00" stroke-width="1.5" fill="none"/>
<path d="M101.19 293.20 L107.19 299.20 M107.19 293.20 L101.19 299.20" stroke="#f00" stroke-width="1.5" fill="none"/>
<path d="M122.78 289.50 L128.78 295.50 M128.78 289.50 L122.78 295.50" stroke="#f00" stroke-width="1.5" fill="none"/>
<path d="M144.37 288.60 L150.37 294.60 M150.37 288.60 L144.37 294.60" stroke="#f00" stroke-width="1.5" fill="none"/>
<path d="M165.95 287.80 L171.95 293.80 M171.95 287.80 L165.95 293.80" stroke="#f00" stroke-width="1.5" fill="none"/>
<path d="M187.55 287.00 L193.55 293.00 M193.55 287.00 L187.55 293.00" stroke="#f00" stroke-width="1.5" fill="none"/>
<path d="M209.13 287.00 L215.13 293.00 M215.13 287.00 L209.13 293.00" stroke="#f00" stroke-width="1.5" fill="none"/>
<path d="M230.73 285.60 L236.73 291.60 M236.73 285.60 L230.73 291.60" stroke="#f00" stroke-width="1.5" fill="none"/>
<path d="M252.31 284.30 L258.31 290.30 M258.31 284.30 L252.31 290.30" stroke="#f00" stroke-width="1.5" fill="none"/>
<path d="M273.90 284.30 L279.90 290.30 M279.90 284.30 L273.90 290.30" stroke="#f00" stroke-width="1.5" fill="none"/>
<path d="M295.50 284.10 L301.50 290.10 M301.50 284.10 L295.50 290.10" stroke="#f00" stroke-width="1.5" fill="none"/>
<path d="M317.08 283.70 L323.08 289.70 M323.08 283.70 L317.08 289.70" stroke="#f00" stroke-width="1.5" fill="none"/>
<path d="M338.68 283.00 L344.68 289.00 M344.68 283.00 L338.68 289.00" stroke="#f00" stroke-width="1.5" fill="none"/>
<path d="M360.26 281.70 L366.26 287.70 M366.26 281.70 L360.26 287.70" stroke="#f00" stroke-width="1.5" fill="none"/>
<path d="M381.86 281.70 L387.86 287.70 M387.86 281.70 L381.86 287.70" stroke="#f00" stroke-width="1.5" fill="none"/>
<path d="M403.44 281.10 L409.44 287.10 M409.44 281.10 L403.44 287.10" stroke="#f00" stroke-width="1.5" fill="none"/>
<path d="M425.04 281.00 L431.04 287.00 M431.04 281.00 L425.04 287.00" stroke="#f00" stroke-width="1.5" fill="none"/>
<path d="M446.62 280.30 L452.62 286.30 M452.62 280.30 L446.62 286.30" stroke="#f00" stroke-width="1.5" fill="none"/>
<path d="M468.22 280.30 L474.22 286.30 M474.22 280.30 L468.22 286.30" stroke="#f00" stroke-width="1.5" fill="none"/>
<path d="M489.81 280.30 L495.81 286.30 M495.81 280.30 L489.81 286.30" stroke="#f00" stroke-width="1.5" fill="none"/>
<path d="M511.39 280.30 L517.39 286.30 M517.39 280.30 L511.39 286.30" stroke="#f00" stroke-width="1.5" fill="none"/>
<path d="M532.99 280.00 L538.99 286.00 M538.99 280.00 L532.99 286.00" stroke="#f00" stroke-width="1.5" fill="none"/>
<path d="M554.57 280.00 L560.57 286.00 M560.57 280.00 L554.57 286.00" stroke="#f00" stroke-width="1.5" fill="none"/>
<path d="M576.16 280.00 L582.16 286.00 M582.16 280.00 L576.16 286.00" stroke="#f00" stroke-width="1.5" fill="none"/>
<path d="M597.75 280.00 L603.75 286.00 M603.75 280.00 L597.75 286.00" stroke="#f00" stroke-width="1.5" fill="none"/>
<path d="M619.34 280.00 L625.34 286.00 M625.34 280.00 L619.34 286.00" stroke="#f00" stroke-width="1.5" fill="none"/>
<path d="M640.93 280.00 L646.93 286.00 M646.93 280.00 L640.93 286.00" stroke="#f00" stroke-width="1.5" fill="none"/>
<path d="M662.52 280.00 L668.52 286.00 M668.52 280.00 L662.52 286.00" stroke="#f00" stroke-width="1.5" fill="none"/>
<path d="M684.11 279.60 L690.11 285.60 M690.11 279.60 L684.11 285.60" stroke="#f00" stroke-width="1.5" fill="none"/>
<path d="M705.70 279.60 L711.70 285.60 M711.70 279.60 L705.70 285.60" stroke="#f00" stroke-width="1.5" fill="none"/>
<polyline points="82.59,310.20 104.19,305.30 125.78,301.80 147.37,300.40 168.95,300.40 190.55,298.40 212.13,298.20 233.73,298.20 255.31,297.90 276.90,297.00 298.50,296.30 320.08,294.80 341.68,294.30 363.26,294.00 384.86,294.00 406.44,294.00 428.04,293.90 449.62,293.30 471.22,293.50 492.81,293.30 514.39,293.50 535.99,293.50 557.57,293.30 579.16,292.90 600.75,292.00 622.34,291.50 643.93,291.50 665.52,291.50 687.11,291.50 708.70,291.50" fill="none" stroke="#000" stroke-width="1.25" stroke-dasharray="3 2" stroke-linejoin="round"/>
<path d="M82.59 307.10 L85.69 310.20 L82.59 313.30 L79.50 310.20 Z" fill="none" stroke="#000" stroke-width="1.2" stroke-linejoin="round"/>
<path d="M104.19 302.20 L107.28 305.30 L104.19 308.40 L101.09 305.30 Z" fill="none" stroke="#000" stroke-width="1.2" stroke-linejoin="round"/>
<path d="M125.78 298.70 L128.88 301.80 L125.78 304.90 L122.68 301.80 Z" fill="none" stroke="#000" stroke-width="1.2" stroke-linejoin="round"/>
<path d="M147.37 297.30 L150.47 300.40 L147.37 303.50 L144.27 300.40 Z" fill="none" stroke="#000" stroke-width="1.2" stroke-linejoin="round"/>
<path d="M168.95 297.30 L172.05 300.40 L168.95 303.50 L165.85 300.40 Z" fill="none" stroke="#000" stroke-width="1.2" stroke-linejoin="round"/>
<path d="M190.55 295.30 L193.65 298.40 L190.55 301.50 L187.45 298.40 Z" fill="none" stroke="#000" stroke-width="1.2" stroke-linejoin="round"/>
<path d="M212.13 295.10 L215.23 298.20 L212.13 301.30 L209.03 298.20 Z" fill="none" stroke="#000" stroke-width="1.2" stroke-linejoin="round"/>
<path d="M233.73 295.10 L236.83 298.20 L233.73 301.30 L230.63 298.20 Z" fill="none" stroke="#000" stroke-width="1.2" stroke-linejoin="round"/>
<path d="M255.31 294.80 L258.42 297.90 L255.31 301.00 L252.22 297.90 Z" fill="none" stroke="#000" stroke-width="1.2" stroke-linejoin="round"/>
<path d="M276.90 293.90 L280.00 297.00 L276.90 300.10 L273.80 297.00 Z" fill="none" stroke="#000" stroke-width="1.2" stroke-linejoin="round"/>
<path d="M298.50 293.20 L301.60 296.30 L298.50 299.40 L295.39 296.30 Z" fill="none" stroke="#000" stroke-width="1.2" stroke-linejoin="round"/>
<path d="M320.08 291.70 L323.19 294.80 L320.08 297.90 L316.98 294.80 Z" fill="none" stroke="#000" stroke-width="1.2" stroke-linejoin="round"/>
<path d="M341.68 291.20 L344.78 294.30 L341.68 297.40 L338.57 294.30 Z" fill="none" stroke="#000" stroke-width="1.2" stroke-linejoin="round"/>
<path d="M363.26 290.90 L366.37 294.00 L363.26 297.10 L360.16 294.00 Z" fill="none" stroke="#000" stroke-width="1.2" stroke-linejoin="round"/>
<path d="M384.86 290.90 L387.96 294.00 L384.86 297.10 L381.75 294.00 Z" fill="none" stroke="#000" stroke-width="1.2" stroke-linejoin="round"/>
<path d="M406.44 290.90 L409.55 294.00 L406.44 297.10 L403.34 294.00 Z" fill="none" stroke="#000" stroke-width="1.2" stroke-linejoin="round"/>
<path d="M428.04 290.80 L431.14 293.90 L428.04 297.00 L424.94 293.90 Z" fill="none" stroke="#000" stroke-width="1.2" stroke-linejoin="round"/>
<path d="M449.62 290.20 L452.73 293.30 L449.62 296.40 L446.52 293.30 Z" fill="none" stroke="#000" stroke-width="1.2" stroke-linejoin="round"/>
<path d="M471.22 290.40 L474.32 293.50 L471.22 296.60 L468.12 293.50 Z" fill="none" stroke="#000" stroke-width="1.2" stroke-linejoin="round"/>
<path d="M492.81 290.20 L495.91 293.30 L492.81 296.40 L489.70 293.30 Z" fill="none" stroke="#000" stroke-width="1.2" stroke-linejoin="round"/>
<path d="M514.39 290.40 L517.50 293.50 L514.39 296.60 L511.29 293.50 Z" fill="none" stroke="#000" stroke-width="1.2" stroke-linejoin="round"/>
<path d="M535.99 290.40 L539.09 293.50 L535.99 296.60 L532.88 293.50 Z" fill="none" stroke="#000" stroke-width="1.2" stroke-linejoin="round"/>
<path d="M557.57 290.20 L560.67 293.30 L557.57 296.40 L554.47 293.30 Z" fill="none" stroke="#000" stroke-width="1.2" stroke-linejoin="round"/>
<path d="M579.16 289.80 L582.26 292.90 L579.16 296.00 L576.06 292.90 Z" fill="none" stroke="#000" stroke-width="1.2" stroke-linejoin="round"/>
<path d="M600.75 288.90 L603.86 292.00 L600.75 295.10 L597.65 292.00 Z" fill="none" stroke="#000" stroke-width="1.2" stroke-linejoin="round"/>
<path d="M622.34 288.40 L625.44 291.50 L622.34 294.60 L619.24 291.50 Z" fill="none" stroke="#000" stroke-width="1.2" stroke-linejoin="round"/>
<path d="M643.93 288.40 L647.03 291.50 L643.93 294.60 L640.83 291.50 Z" fill="none" stroke="#000" stroke-width="1.2" stroke-linejoin="round"/>
<path d="M665.52 288.40 L668.62 291.50 L665.52 294.60 L662.42 291.50 Z" fill="none" stroke="#000" stroke-width="1.2" stroke-linejoin="round"/>
<path d="M687.11 288.40 L690.21 291.50 L687.11 294.60 L684.01 291.50 Z" fill="none" stroke="#000" stroke-width="1.2" stroke-linejoin="round"/>
<path d="M708.70 288.40 L711.80 291.50 L708.70 294.60 L705.60 291.50 Z" fill="none" stroke="#000" stroke-width="1.2" stroke-linejoin="round"/>
<polyline points="82.59,219.82 104.19,214.73 125.78,211.35 147.37,209.38 168.95,208.05 190.55,206.39 212.13,205.22 233.73,204.27 255.31,203.55 276.90,202.81 298.50,202.04 320.08,201.38 341.68,200.85 363.26,200.37 384.86,199.94 406.44,199.41 428.04,198.88 449.62,198.37 471.22,197.99 492.81,197.74 514.39,197.38 535.99,197.10 557.57,196.76 579.16,196.44 600.75,196.12 622.34,195.95 643.93,195.70 665.52,195.42 687.11,195.04 708.70,194.75" fill="none" stroke="#f00" stroke-width="1.4" stroke-dasharray="3 2" stroke-linejoin="round"/>
<rect x="79.64" y="216.87" width="5.90" height="5.90" fill="none" stroke="#f00" stroke-width="1.2"/>
<rect x="101.23" y="211.78" width="5.90" height="5.90" fill="none" stroke="#f00" stroke-width="1.2"/>
<rect x="122.83" y="208.40" width="5.90" height="5.90" fill="none" stroke="#f00" stroke-width="1.2"/>
<rect x="144.42" y="206.43" width="5.90" height="5.90" fill="none" stroke="#f00" stroke-width="1.2"/>
<rect x="166.00" y="205.10" width="5.90" height="5.90" fill="none" stroke="#f00" stroke-width="1.2"/>
<rect x="187.60" y="203.44" width="5.90" height="5.90" fill="none" stroke="#f00" stroke-width="1.2"/>
<rect x="209.19" y="202.27" width="5.90" height="5.90" fill="none" stroke="#f00" stroke-width="1.2"/>
<rect x="230.78" y="201.32" width="5.90" height="5.90" fill="none" stroke="#f00" stroke-width="1.2"/>
<rect x="252.37" y="200.60" width="5.90" height="5.90" fill="none" stroke="#f00" stroke-width="1.2"/>
<rect x="273.95" y="199.86" width="5.90" height="5.90" fill="none" stroke="#f00" stroke-width="1.2"/>
<rect x="295.55" y="199.09" width="5.90" height="5.90" fill="none" stroke="#f00" stroke-width="1.2"/>
<rect x="317.13" y="198.43" width="5.90" height="5.90" fill="none" stroke="#f00" stroke-width="1.2"/>
<rect x="338.73" y="197.90" width="5.90" height="5.90" fill="none" stroke="#f00" stroke-width="1.2"/>
<rect x="360.31" y="197.42" width="5.90" height="5.90" fill="none" stroke="#f00" stroke-width="1.2"/>
<rect x="381.91" y="196.99" width="5.90" height="5.90" fill="none" stroke="#f00" stroke-width="1.2"/>
<rect x="403.50" y="196.46" width="5.90" height="5.90" fill="none" stroke="#f00" stroke-width="1.2"/>
<rect x="425.09" y="195.93" width="5.90" height="5.90" fill="none" stroke="#f00" stroke-width="1.2"/>
<rect x="446.68" y="195.42" width="5.90" height="5.90" fill="none" stroke="#f00" stroke-width="1.2"/>
<rect x="468.27" y="195.04" width="5.90" height="5.90" fill="none" stroke="#f00" stroke-width="1.2"/>
<rect x="489.86" y="194.79" width="5.90" height="5.90" fill="none" stroke="#f00" stroke-width="1.2"/>
<rect x="511.44" y="194.43" width="5.90" height="5.90" fill="none" stroke="#f00" stroke-width="1.2"/>
<rect x="533.03" y="194.15" width="5.90" height="5.90" fill="none" stroke="#f00" stroke-width="1.2"/>
<rect x="554.62" y="193.81" width="5.90" height="5.90" fill="none" stroke="#f00" stroke-width="1.2"/>
<rect x="576.21" y="193.49" width="5.90" height="5.90" fill="none" stroke="#f00" stroke-width="1.2"/>
<rect x="597.80" y="193.17" width="5.90" height="5.90" fill="none" stroke="#f00" stroke-width="1.2"/>
<rect x="619.39" y="193.00" width="5.90" height="5.90" fill="none" stroke="#f00" stroke-width="1.2"/>
<rect x="640.98" y="192.75" width="5.90" height="5.90" fill="none" stroke="#f00" stroke-width="1.2"/>
<rect x="662.57" y="192.47" width="5.90" height="5.90" fill="none" stroke="#f00" stroke-width="1.2"/>
<rect x="684.16" y="192.09" width="5.90" height="5.90" fill="none" stroke="#f00" stroke-width="1.2"/>
<rect x="705.75" y="191.80" width="5.90" height="5.90" fill="none" stroke="#f00" stroke-width="1.2"/>
<rect x="142.4" y="229" width="451.1" height="28" fill="#fff" stroke="#000" stroke-width="1.3"/>
<line x1="155.20" y1="243.20" x2="188.20" y2="243.20" stroke="#000" stroke-width="1.25"/>
<path d="M168.71 240.11 L174.29 245.69 M174.29 240.11 L168.71 245.69" stroke="#000" stroke-width="1.5" fill="none"/>
<text x="192.20" y="246.60" class="lg">OBET-SSC</text>
<line x1="257.90" y1="243.20" x2="290.90" y2="243.20" stroke="#000" stroke-width="1.25"/>
<path d="M274.20 240.11 L277.08 245.69 L271.32 245.69 Z" fill="none" stroke="#000" stroke-width="1.2" stroke-linejoin="round"/>
<text x="294.60" y="246.60" class="lg">OBET-SSCDSD</text>
<line x1="381.90" y1="243.20" x2="414.90" y2="243.20" stroke="#f00" stroke-width="1.5" stroke-dasharray="3 2"/>
<path d="M395.41 240.11 L400.99 245.69 M400.99 240.11 L395.41 245.69" stroke="#f00" stroke-width="1.5" fill="none"/>
<text x="418.80" y="246.60" class="lg">XED</text>
<line x1="452.30" y1="243.20" x2="485.30" y2="243.20" stroke="#000" stroke-width="1.25" stroke-dasharray="3 2"/>
<path d="M468.60 240.02 L471.48 242.90 L468.60 245.78 L465.72 242.90 Z" fill="none" stroke="#000" stroke-width="1.2" stroke-linejoin="round"/>
<text x="489.40" y="246.60" class="lg">DUO</text>
<line x1="524.50" y1="243.20" x2="557.50" y2="243.20" stroke="#f00" stroke-width="1.5" stroke-dasharray="3 2"/>
<rect x="538.06" y="240.16" width="5.49" height="5.49" fill="none" stroke="#f00" stroke-width="1.2"/>
<text x="561.30" y="246.60" class="lg">PAIR</text>
<text x="85.67" y="164.0" class="tk" text-anchor="middle">0</text>
<text x="82.59" y="331.6" class="tk" text-anchor="middle">0</text>
<text x="107.01" y="164.0" class="tk" text-anchor="middle">12</text>
<text x="104.19" y="331.6" class="tk" text-anchor="middle">12</text>
<text x="128.36" y="164.0" class="tk" text-anchor="middle">24</text>
<text x="125.78" y="331.6" class="tk" text-anchor="middle">24</text>
<text x="149.70" y="164.0" class="tk" text-anchor="middle">36</text>
<text x="147.37" y="331.6" class="tk" text-anchor="middle">36</text>
<text x="171.04" y="164.0" class="tk" text-anchor="middle">48</text>
<text x="168.95" y="331.6" class="tk" text-anchor="middle">48</text>
<text x="192.39" y="164.0" class="tk" text-anchor="middle">60</text>
<text x="190.55" y="331.6" class="tk" text-anchor="middle">60</text>
<text x="213.73" y="164.0" class="tk" text-anchor="middle">72</text>
<text x="212.13" y="331.6" class="tk" text-anchor="middle">72</text>
<text x="235.07" y="164.0" class="tk" text-anchor="middle">84</text>
<text x="233.73" y="331.6" class="tk" text-anchor="middle">84</text>
<text x="256.42" y="164.0" class="tk" text-anchor="middle">96</text>
<text x="255.31" y="331.6" class="tk" text-anchor="middle">96</text>
<text x="277.76" y="164.0" class="tk" text-anchor="middle">108</text>
<text x="276.90" y="331.6" class="tk" text-anchor="middle">108</text>
<text x="299.10" y="164.0" class="tk" text-anchor="middle">120</text>
<text x="298.50" y="331.6" class="tk" text-anchor="middle">120</text>
<text x="320.45" y="164.0" class="tk" text-anchor="middle">132</text>
<text x="320.08" y="331.6" class="tk" text-anchor="middle">132</text>
<text x="341.79" y="164.0" class="tk" text-anchor="middle">144</text>
<text x="341.68" y="331.6" class="tk" text-anchor="middle">144</text>
<text x="363.13" y="164.0" class="tk" text-anchor="middle">156</text>
<text x="363.26" y="331.6" class="tk" text-anchor="middle">156</text>
<text x="384.48" y="164.0" class="tk" text-anchor="middle">168</text>
<text x="384.86" y="331.6" class="tk" text-anchor="middle">168</text>
<text x="405.82" y="164.0" class="tk" text-anchor="middle">180</text>
<text x="406.44" y="331.6" class="tk" text-anchor="middle">180</text>
<text x="427.16" y="164.0" class="tk" text-anchor="middle">192</text>
<text x="428.04" y="331.6" class="tk" text-anchor="middle">192</text>
<text x="448.51" y="164.0" class="tk" text-anchor="middle">204</text>
<text x="449.62" y="331.6" class="tk" text-anchor="middle">204</text>
<text x="469.85" y="164.0" class="tk" text-anchor="middle">216</text>
<text x="471.22" y="331.6" class="tk" text-anchor="middle">216</text>
<text x="491.19" y="164.0" class="tk" text-anchor="middle">228</text>
<text x="492.81" y="331.6" class="tk" text-anchor="middle">228</text>
<text x="512.54" y="164.0" class="tk" text-anchor="middle">240</text>
<text x="514.39" y="331.6" class="tk" text-anchor="middle">240</text>
<text x="533.88" y="164.0" class="tk" text-anchor="middle">252</text>
<text x="535.99" y="331.6" class="tk" text-anchor="middle">252</text>
<text x="555.22" y="164.0" class="tk" text-anchor="middle">264</text>
<text x="557.57" y="331.6" class="tk" text-anchor="middle">264</text>
<text x="576.57" y="164.0" class="tk" text-anchor="middle">276</text>
<text x="579.16" y="331.6" class="tk" text-anchor="middle">276</text>
<text x="597.91" y="164.0" class="tk" text-anchor="middle">288</text>
<text x="600.75" y="331.6" class="tk" text-anchor="middle">288</text>
<text x="619.25" y="164.0" class="tk" text-anchor="middle">300</text>
<text x="622.34" y="331.6" class="tk" text-anchor="middle">300</text>
<text x="640.60" y="164.0" class="tk" text-anchor="middle">312</text>
<text x="643.93" y="331.6" class="tk" text-anchor="middle">312</text>
<text x="661.94" y="164.0" class="tk" text-anchor="middle">324</text>
<text x="665.52" y="331.6" class="tk" text-anchor="middle">324</text>
<text x="683.28" y="164.0" class="tk" text-anchor="middle">336</text>
<text x="687.11" y="331.6" class="tk" text-anchor="middle">336</text>
<text x="704.63" y="164.0" class="tk" text-anchor="middle">348</text>
<text x="708.70" y="331.6" class="tk" text-anchor="middle">348</text>
<text x="55.90" y="19.40" class="yl">10<tspan class="sup" dy="-3.1">-1</tspan></text>
<text x="54.30" y="44.30" class="yl">10<tspan class="sup" dy="-3.1">-2</tspan></text>
<text x="54.50" y="71.20" class="yl">10<tspan class="sup" dy="-3.1">-3</tspan></text>
<text x="55.30" y="96.00" class="yl">10<tspan class="sup" dy="-3.1">-4</tspan></text>
<text x="54.70" y="122.90" class="yl">10<tspan class="sup" dy="-3.1">-5</tspan></text>
<text x="53.20" y="149.20" class="yl">10<tspan class="sup" dy="-3.1">-6</tspan></text>
<text x="52.90" y="182.30" class="yl">10<tspan class="sup" dy="-3.1">-1</tspan></text>
<text x="52.30" y="215.60" class="yl">10<tspan class="sup" dy="-3.1">-3</tspan></text>
<text x="49.70" y="250.50" class="yl">10<tspan class="sup" dy="-3.1">-5</tspan></text>
<text x="48.50" y="282.60" class="yl">10<tspan class="sup" dy="-3.1">-7</tspan></text>
<text x="50.50" y="317.30" class="yl">10<tspan class="sup" dy="-3.1">-9</tspan></text>
<text class="ttl" transform="translate(43.5,80.4) rotate(-90)" text-anchor="middle">Probability of System Failure</text>
<text class="ttl" transform="translate(43.8,247.4) rotate(-90)" text-anchor="middle">Probability of System Failure</text>
<text x="414.2" y="136.5" class="wk">Weeks</text>
<text x="417.3" y="311.1" class="wk">Weeks</text>
<text x="5.2" y="83.8" class="pl">a)</text>
<text x="7.4" y="247.6" class="pl">b)</text>
</svg>
</body></html>
